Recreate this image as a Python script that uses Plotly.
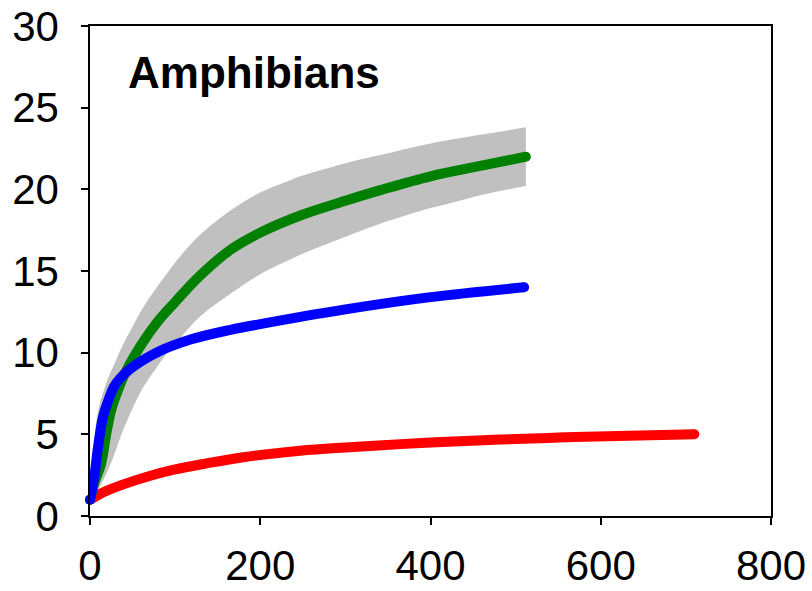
import plotly.graph_objects as go

# Sample effort (x) and expected species richness for each curve
green_x = [0, 5, 13, 19, 24, 28, 40, 51, 78, 100, 129, 165, 200, 247, 300, 341, 400, 460, 512]
green_y = [1.0, 2.0, 3.2, 5.0, 6.3, 7.0, 8.6, 9.7, 11.8, 13.1, 14.7, 16.3, 17.35, 18.4, 19.3, 19.95,
           20.8, 21.45, 22.0]

band_x = [0, 3, 9.8, 21, 29.4, 37, 51, 64, 94, 106, 129, 165, 200, 235, 247, 300, 341, 365, 400,
          420, 460, 512]
band_upper = [1.0, 3.5, 6.5, 8.4, 9.4, 10.3, 11.7, 12.9, 15.1, 15.9, 17.2, 18.7, 19.8, 20.55,
              20.8, 21.6, 22.1, 22.4, 22.8, 23.0, 23.35, 23.8]
band_lower = [1.0, 1.2, 1.65, 2.8, 3.9, 5.0, 6.7, 8.0, 10.2, 10.9, 12.2, 13.6, 14.8, 15.7,
              16.0, 17.1, 17.9, 18.3, 18.85, 19.1, 19.65, 20.2]

blue_x = [0, 2, 5.5, 9.4, 15, 21, 28, 35, 47, 78, 118, 165, 200, 300, 400, 510]
blue_y = [1.0, 1.5, 2.6, 4.2, 6.0, 7.0, 7.9, 8.4, 9.0, 10.0, 10.8, 11.4, 11.75, 12.65, 13.4, 14.0]

red_x = [0, 10, 20, 40, 70, 100, 135, 180, 247, 300, 365, 420, 482, 550, 620, 710]
red_y = [1.0, 1.3, 1.55, 1.95, 2.45, 2.85, 3.2, 3.6, 4.0, 4.2, 4.4, 4.55, 4.68, 4.8, 4.9, 5.0]

x_ticks = [0, 200, 400, 600, 800]
y_ticks = [0, 5, 10, 15, 20, 25, 30]
title_text = "Amphibians"

LINE_W = 10

fig = go.Figure()

# Confidence band around the green curve
fig.add_trace(go.Scatter(x=band_x, y=band_lower, mode="lines", line=dict(width=0, color="#c0c0c0"),
                         line_shape="spline", hoverinfo="skip", showlegend=False))
fig.add_trace(go.Scatter(x=band_x, y=band_upper, mode="lines", line=dict(width=0, color="#c0c0c0"),
                         line_shape="spline", fill="tonexty", fillcolor="#c0c0c0",
                         hoverinfo="skip", showlegend=False))


def add_curve(xs, ys, color):
    fig.add_trace(go.Scatter(x=xs, y=ys, mode="lines", line=dict(width=LINE_W, color=color),
                             line_shape="spline", showlegend=False, cliponaxis=False))
    # rounded ends
    fig.add_trace(go.Scatter(x=[xs[0], xs[-1]], y=[ys[0], ys[-1]], mode="markers",
                             marker=dict(size=LINE_W, color=color, line=dict(width=0)),
                             showlegend=False, cliponaxis=False))


add_curve(red_x, red_y, "#ff0000")
add_curve(green_x, green_y, "#008000")
add_curve(blue_x, blue_y, "#0000ff")

axis_common = dict(showline=True, linecolor="black", linewidth=1.5, mirror=True,
                   ticks="outside", ticklen=7, tickwidth=1.5, tickcolor="black",
                   showgrid=False, zeroline=False, automargin=False,
                   tickfont=dict(family="Liberation Sans, Arial", size=42, color="black"))

fig.update_xaxes(range=[0, 800], tickvals=x_ticks, ticktext=[str(v) for v in x_ticks],
                 ticklabelstandoff=5, **axis_common)
fig.update_yaxes(range=[0, 30], tickvals=y_ticks, ticktext=[str(v) for v in y_ticks],
                 ticklabelstandoff=14, **axis_common)

fig.add_annotation(text="<b>" + title_text + "</b>", xref="paper", yref="paper",
                   x=0.053, y=0.906, xanchor="left", yanchor="middle", showarrow=False,
                   font=dict(family="Liberation Sans, Arial", size=44, color="black"))

fig.update_layout(width=812, height=591, margin=dict(l=90, r=41, t=26, b=75),
                  paper_bgcolor="white", plot_bgcolor="white")

fig.write_html("out.html")
